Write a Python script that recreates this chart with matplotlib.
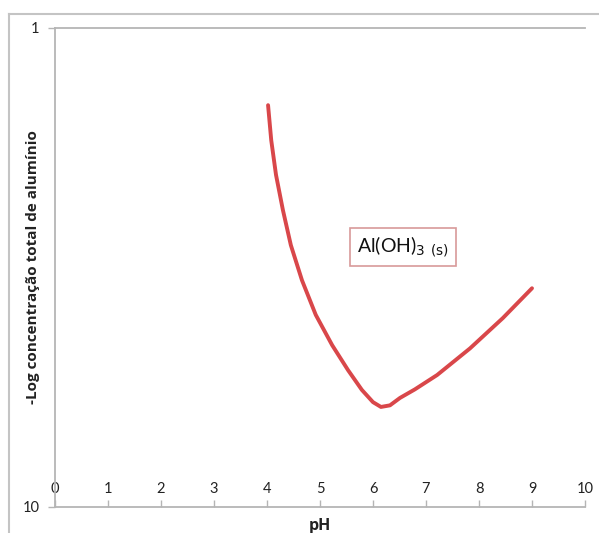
import matplotlib
matplotlib.use("Agg")
import matplotlib.pyplot as plt
from matplotlib.lines import Line2D

plt.rcParams['font.family'] = ['Lato', 'DejaVu Sans']

ph = [4.02, 4.08, 4.17, 4.30, 4.45, 4.66, 4.92, 5.23, 5.53, 5.79, 6.00, 6.15,
      6.32, 6.51, 6.79, 7.21, 7.83, 8.45, 9.00]
neglog_al = [2.45, 3.11, 3.76, 4.42, 5.08, 5.74, 6.39, 6.96, 7.43, 7.80, 8.03, 8.12,
             8.09, 7.95, 7.79, 7.52, 7.02, 6.45, 5.89]
x_ticks = list(range(0, 11))
y_ticks = [1, 10]
label_text = r'Al(OH)$_3$ $_{\rm (s)}$'
xlabel = 'pH'
ylabel = '-Log concentração total de alumínio'

W, H = 599, 533
fig = plt.figure(figsize=(W/100, H/100), dpi=100)
ax = fig.add_axes([55/W, 1-507/H, (585-55)/W, (507-28)/H])

ax.plot(ph, neglog_al, color='#d9474a', lw=2.8, solid_capstyle='round',
        solid_joinstyle='round')

ax.set_xlim(0, 10)
ax.set_ylim(10, 1)
ax.set_xticks(x_ticks)
ax.set_yticks(y_ticks)
ax.set_xticklabels([str(v) for v in x_ticks])
ax.set_yticklabels([str(v) for v in y_ticks])

grey = '#b5b5b5'
for s in ['left', 'top', 'bottom']:
    ax.spines[s].set_color(grey)
    ax.spines[s].set_linewidth(1.3)
ax.spines['right'].set_visible(False)

ax.tick_params(axis='x', direction='in', length=5, color=grey, width=1,
               labelsize=10.5, pad=-18, labelcolor='#222222')
ax.tick_params(axis='y', direction='out', length=5, color=grey, width=1,
               labelsize=10.5, pad=6, labelcolor='#222222')

ax.set_xlabel(xlabel, fontsize=11.5, fontweight='bold', color='#222222',
              family=['Open Sans', 'DejaVu Sans'])
ax.xaxis.set_label_coords(0.5, -19/479)
ax.xaxis.label.set_va('center')
ax.set_ylabel(ylabel, fontsize=11, fontweight='bold', color='#222222',
              family=['Open Sans', 'DejaVu Sans'])
ax.yaxis.set_label_coords(-22/530, 0.5)
ax.yaxis.label.set_va('center')

ax.text(6.57, 5.12, label_text, fontsize=14, ha='center', va='center',
        color='#111111',
        bbox=dict(boxstyle='square,pad=0.35', facecolor='white',
                  edgecolor='#d89a9a', linewidth=1.2))

# outer chart border (left and top edges)
fig.add_artist(Line2D([9/W, 9/W], [0, 1-14/H], transform=fig.transFigure,
                      color='#c4c4c4', lw=1.5))
fig.add_artist(Line2D([9/W, 1], [1-14/H, 1-14/H], transform=fig.transFigure,
                      color='#c4c4c4', lw=1.5))

fig.savefig('out.png', dpi=100)
